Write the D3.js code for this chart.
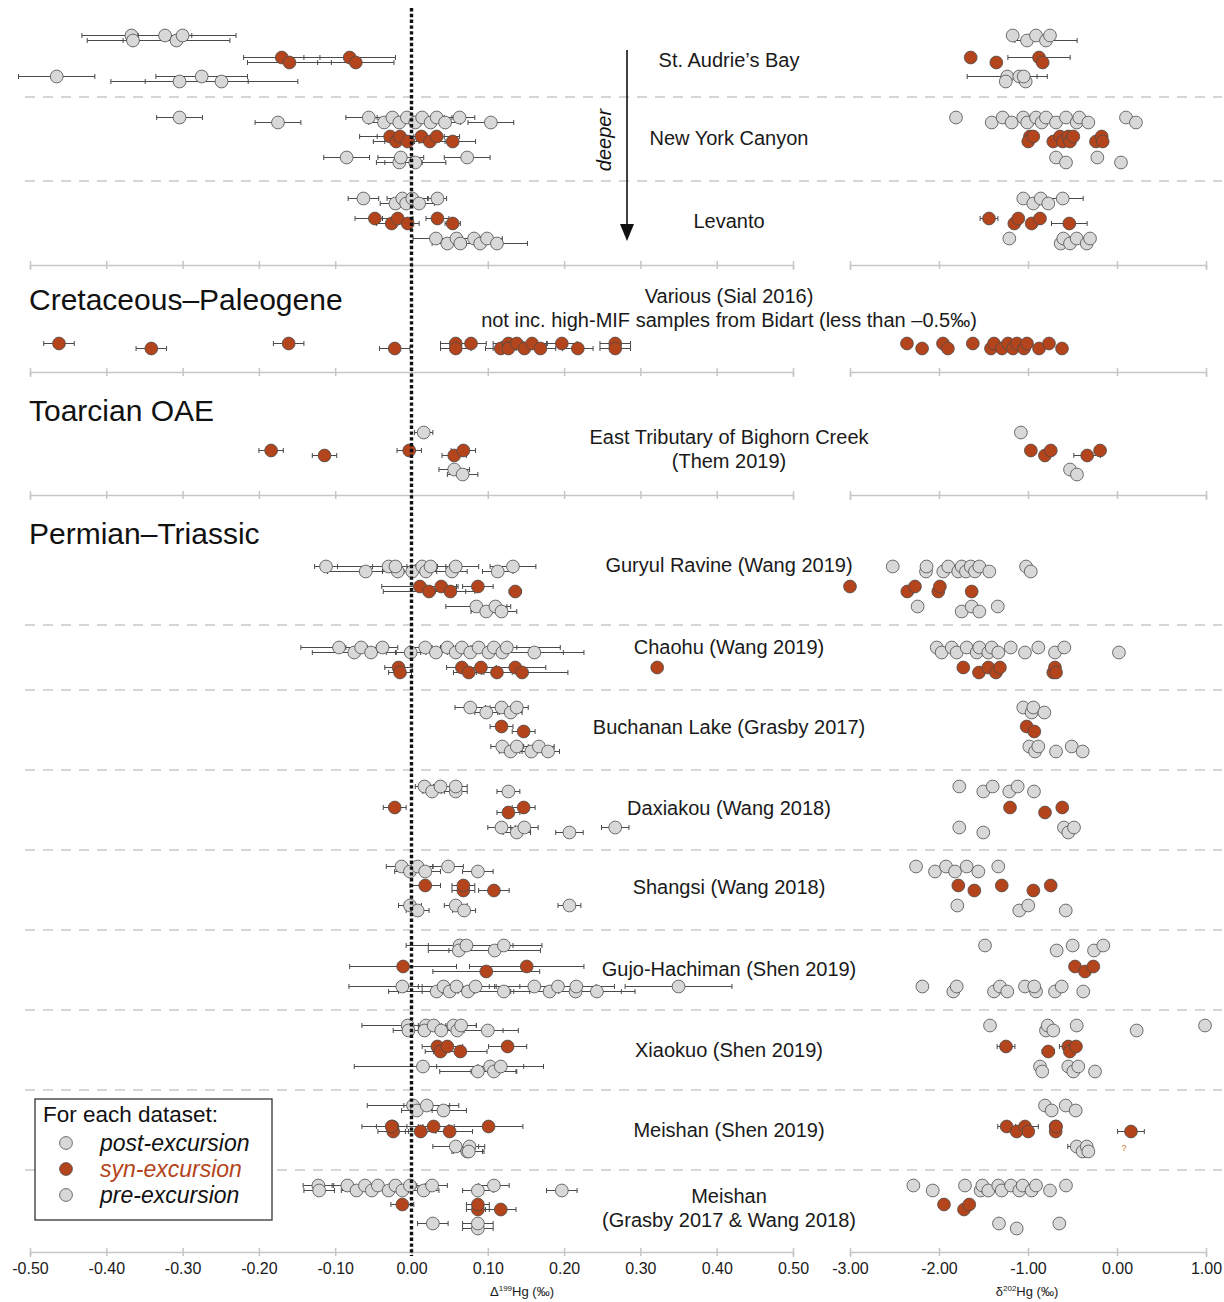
<!DOCTYPE html>
<html><head><meta charset="utf-8">
<script src="https://cdn.jsdelivr.net/npm/d3@7"></script>
<style>body{margin:0;background:#fff}svg{display:block;font-family:"Liberation Sans",Arial,Helvetica,sans-serif}</style>
</head><body><svg id="c" width="1224" height="1302"></svg>
<script>
// ---------------- DATA ----------------
const datasetLabels = [
  ["St. Audrie\u2019s Bay"], ["New York Canyon"], ["Levanto"],
  ["Various (Sial 2016)", "not inc. high-MIF samples from Bidart (less than \u20130.5\u2030)"],
  ["East Tributary of Bighorn Creek", "(Them 2019)"],
  ["Guryul Ravine (Wang 2019)"], ["Chaohu (Wang 2019)"], ["Buchanan Lake (Grasby 2017)"],
  ["Daxiakou (Wang 2018)"], ["Shangsi (Wang 2018)"], ["Gujo-Hachiman (Shen 2019)"],
  ["Xiaokuo (Shen 2019)"], ["Meishan (Shen 2019)"], ["Meishan", "(Grasby 2017 & Wang 2018)"]
];
const eventTitles = ["Cretaceous\u2013Paleogene", "Toarcian OAE", "Permian\u2013Triassic"];
const legendLabels = ["post-excursion", "syn-excursion", "pre-excursion"];
const ticksD199 = [-0.5,-0.4,-0.3,-0.2,-0.1,0,0.1,0.2,0.3,0.4,0.5];
const ticksD202 = [-3,-2,-1,0,1];

// [value, error] per dataset (index as in datasetLabels)
const d199Post = [
  [[-0.367,0.065],[-0.365,0.06],[-0.323,0.035],[-0.308,0.07],[-0.300,0.07]],
  [[-0.304,0.03],[-0.175,0.03],[-0.056,0.03],[-0.036,0.02],[-0.025,0.02],[-0.016,0.02],[-0.006,0.02],[0.005,0.02],[0.014,0.02],[0.025,0.02],[0.033,0.02],[0.044,0.02],[0.063,0.02],[0.104,0.03]],
  [[-0.063,0.02],[-0.021,0.02],[-0.012,0.02],[-0.007,0.02],[0.001,0.02],[0.010,0.02],[0.034,0.012]],
  [],
  [[0.016,0.012]],
  [[-0.112,0.015],[-0.060,0.05],[-0.030,0.08],[-0.018,0.02],[-0.021,0.03],[0.001,0.02],[0.014,0.02],[0.019,0.03],[0.025,0.02],[0.053,0.02],[0.058,0.03],[0.113,0.02],[0.133,0.03]],
  [[-0.095,0.05],[-0.075,0.055],[-0.066,0.02],[-0.053,0.02],[-0.038,0.02],[-0.001,0.02],[0.018,0.02],[0.032,0.02],[0.047,0.02],[0.058,0.02],[0.066,0.02],[0.077,0.03],[0.088,0.03],[0.101,0.02],[0.108,0.03],[0.119,0.08],[0.125,0.07],[0.161,0.065]],
  [[0.077,0.02],[0.098,0.015],[0.118,0.015],[0.130,0.015],[0.138,0.015]],
  [[0.017,0.012],[0.027,0.012],[0.038,0.015],[0.058,0.015],[0.058,0.015],[0.127,0.015]],
  [[-0.013,0.02],[-0.002,0.02],[0.008,0.02],[0.018,0.02],[0.048,0.02],[0.087,0.02]],
  [[0.063,0.07],[0.062,0.04],[0.072,0.05],[0.109,0.06],[0.121,0.05]],
  [[-0.005,0.06],[-0.004,0.02],[0.019,0.02],[0.017,0.02],[0.029,0.02],[0.039,0.03],[0.055,0.03],[0.060,0.06],[0.065,0.02],[0.100,0.04]],
  [[0.002,0.06],[0.007,0.02],[0.020,0.03],[0.042,0.03]],
  [[-0.122,0.02],[-0.121,0.02],[-0.084,0.02],[-0.072,0.02],[-0.061,0.02],[-0.052,0.02],[-0.044,0.02],[-0.030,0.02],[-0.021,0.02],[-0.012,0.02],[-0.002,0.02],[0.016,0.02],[0.027,0.02],[0.087,0.02],[0.108,0.02],[0.197,0.02]]
];
const d199Syn = [
  [[-0.170,0.05],[-0.160,0.055],[-0.081,0.06],[-0.073,0.05]],
  [[-0.028,0.04],[-0.020,0.03],[-0.015,0.03],[-0.005,0.03],[0.013,0.03],[0.024,0.02],[0.033,0.03],[0.054,0.03]],
  [[-0.048,0.026],[-0.026,0.02],[-0.018,0.02],[-0.005,0.015],[0.034,0.015],[0.054,0.01]],
  [[-0.462,0.02],[-0.341,0.02],[-0.161,0.02],[-0.022,0.02],[0.058,0.02],[0.058,0.02],[0.078,0.02],[0.117,0.02],[0.127,0.02],[0.127,0.02],[0.138,0.02],[0.148,0.02],[0.158,0.02],[0.169,0.02],[0.197,0.02],[0.218,0.02],[0.267,0.02],[0.267,0.02]],
  [[-0.184,0.016],[-0.114,0.016],[-0.003,0.016],[0.056,0.016],[0.068,0.016]],
  [[0.011,0.05],[0.023,0.06],[0.039,0.02],[0.051,0.02],[0.087,0.02],[0.136,0.008]],
  [[-0.017,0.018],[-0.015,0.015],[0.066,0.02],[0.075,0.02],[0.091,0.02],[0.112,0.02],[0.136,0.04],[0.145,0.06],[0.322,0.006]],
  [[0.118,0.015],[0.147,0.015]],
  [[-0.022,0.015],[0.127,0.015],[0.147,0.015]],
  [[0.018,0.02],[0.068,0.015],[0.068,0.015],[0.108,0.02]],
  [[-0.011,0.07],[0.098,0.07],[0.151,0.075]],
  [[0.034,0.02],[0.038,0.02],[0.047,0.02],[0.064,0.035],[0.126,0.025]],
  [[-0.025,0.04],[-0.024,0.02],[-0.026,0.02],[0.012,0.02],[0.029,0.02],[0.050,0.03],[0.101,0.045]],
  [[-0.012,0.015],[0.087,0.015],[0.087,0.015],[0.117,0.02]]
];
const d199Pre = [
  [[-0.465,0.05],[-0.304,0.09],[-0.275,0.06],[-0.249,0.1]],
  [[-0.085,0.03],[-0.016,0.03],[-0.014,0.03],[0.005,0.04],[0.073,0.03]],
  [[0.032,0.03],[0.047,0.02],[0.059,0.02],[0.064,0.02],[0.082,0.02],[0.090,0.02],[0.099,0.02],[0.112,0.04]],
  [],
  [[0.056,0.02],[0.067,0.02]],
  [[0.085,0.04],[0.098,0.02],[0.110,0.02],[0.118,0.02]],
  [],
  [[0.119,0.015],[0.130,0.015],[0.138,0.015],[0.157,0.015],[0.167,0.02],[0.179,0.015]],
  [[0.118,0.018],[0.138,0.018],[0.148,0.018],[0.207,0.018],[0.267,0.018]],
  [[-0.002,0.015],[0.008,0.015],[0.058,0.015],[0.069,0.015],[0.207,0.015]],
  [[-0.012,0.07],[0.033,0.05],[0.042,0.06],[0.050,0.08],[0.059,0.05],[0.074,0.06],[0.084,0.07],[0.121,0.06],[0.161,0.05],[0.181,0.06],[0.192,0.05],[0.215,0.06],[0.216,0.05],[0.243,0.05],[0.350,0.07]],
  [[0.015,0.09],[0.087,0.05],[0.103,0.07],[0.108,0.03],[0.117,0.03]],
  [[0.058,0.03],[0.073,0.02],[0.076,0.02],[0.075,0.02]],
  [[0.028,0.02],[0.087,0.02],[0.087,0.02]]
];
const d202Post = [
  [[-1.172,0.05],[-1.011,0.05],[-0.910,0.05],[-0.798,0.35],[-0.753,0.05]],
  [[-1.809,0.03],[-1.408,0.03],[-1.285,0.03],[-1.183,0.03],[-1.053,0.03],[-1.008,0.03],[-0.910,0.03],[-0.846,0.03],[-0.798,0.03],[-0.685,0.03],[-0.573,0.03],[-0.453,0.03],[-0.424,0.03],[-0.322,0.05],[0.101,0.03],[0.213,0.05]],
  [[-1.053,0.05],[-0.941,0.03],[-0.857,0.03],[-0.772,0.03],[-0.610,0.23]],
  [],
  [[-1.08,0.03]],
  [[-2.52,0.03],[-2.146,0.03],[-2.14,0.03],[-1.952,0.03],[-1.896,0.03],[-1.784,0.03],[-1.745,0.03],[-1.697,0.03],[-1.644,0.03],[-1.596,0.03],[-1.547,0.03],[-1.435,0.03],[-1.022,0.03],[-0.969,0.03]],
  [[-2.026,0.03],[-1.970,0.03],[-1.857,0.03],[-1.801,0.03],[-1.689,0.03],[-1.576,0.03],[-1.547,0.03],[-1.446,0.03],[-1.408,0.03],[-1.334,0.03],[-1.194,0.03],[-1.034,0.03],[-0.884,0.03],[-0.697,0.05],[-0.592,0.03],[0.022,0.03]],
  [[-1.053,0.05],[-0.959,0.03],[-0.940,0.03],[-0.816,0.03]],
  [[-1.772,0.03],[-1.502,0.03],[-1.397,0.03],[-1.210,0.03],[-1.116,0.03],[-0.933,0.03]],
  [[-2.258,0.05],[-2.045,0.03],[-1.921,0.03],[-1.820,0.03],[-1.689,0.03],[-1.558,0.03],[-1.334,0.03]],
  [[-1.483,0.03],[-0.678,0.03],[-0.498,0.03],[-0.258,0.03],[-0.154,0.03]],
  [[-1.427,0.03],[-0.798,0.03],[-0.779,0.03],[-0.716,0.03],[-0.453,0.03],[0.221,0.03],[0.989,0.03]],
  [[-0.809,0.03],[-0.734,0.03],[-0.576,0.03],[-0.464,0.03]],
  [[-2.288,0.05],[-2.071,0.05],[-1.708,0.03],[-1.532,0.03],[-1.513,0.05],[-1.446,0.03],[-1.334,0.03],[-1.296,0.03],[-1.191,0.03],[-1.098,0.03],[-1.060,0.03],[-0.959,0.05],[-0.910,0.03],[-0.753,0.03],[-0.573,0.05]]
];
const d202Syn = [
  [[-1.644,0.03],[-1.356,0.03],[-0.876,0.35],[-0.835,0.05]],
  [[-0.978,0.05],[-0.997,0.03],[-0.941,0.03],[-0.716,0.03],[-0.640,0.03],[-0.610,0.03],[-0.547,0.03],[-0.528,0.03],[-0.491,0.03],[-0.236,0.03],[-0.172,0.03],[-0.161,0.05]],
  [[-1.438,0.1],[-1.154,0.03],[-1.109,0.03],[-0.959,0.03],[-0.865,0.03],[-0.536,0.2]],
  [[-2.36,0.03],[-2.19,0.03],[-1.955,0.03],[-1.90,0.03],[-1.62,0.04],[-1.416,0.03],[-1.382,0.03],[-1.292,0.03],[-1.225,0.03],[-1.169,0.03],[-1.124,0.03],[-1.045,0.03],[-1.011,0.03],[-0.876,0.03],[-0.764,0.03],[-0.618,0.05]],
  [[-0.968,0.03],[-0.81,0.03],[-0.744,0.03],[-0.335,0.15],[-0.19,0.03]],
  [[-3.00,0.03],[-2.356,0.03],[-2.27,0.03],[-2.008,0.03],[-1.99,0.03],[-1.633,0.03]],
  [[-1.727,0.03],[-1.551,0.03],[-1.446,0.03],[-1.360,0.03],[-1.315,0.03],[-0.716,0.03],[-0.697,0.05],[-0.685,0.03]],
  [[-1.015,0.03],[-0.929,0.03]],
  [[-1.202,0.05],[-0.809,0.05],[-0.615,0.03]],
  [[-1.783,0.03],[-1.603,0.03],[-1.295,0.03],[-0.940,0.03],[-0.745,0.05]],
  [[-0.472,0.03],[-0.36,0.03],[-0.266,0.03]],
  [[-1.247,0.1],[-0.772,0.07],[-0.547,0.1],[-0.530,0.03],[-0.461,0.03]],
  [[-1.24,0.1],[-1.127,0.03],[-1.034,0.15],[-0.997,0.03],[-0.689,0.03],[-0.689,0.03],[-0.685,0.03],[0.157,0.15]],
  [[-1.944,0.05],[-1.719,0.05],[-1.66,0.05]]
];
const d202Pre = [
  [[-1.233,0.45],[-1.25,0.03],[-1.098,0.2],[-1.026,0.05],[-1.048,0.03]],
  [[-0.685,0.03],[-0.573,0.03],[-0.221,0.03],[0.045,0.05]],
  [[-1.21,0.05],[-0.633,0.03],[-0.603,0.03],[-0.528,0.03],[-0.453,0.03],[-0.340,0.03],[-0.303,0.03]],
  [],
  [[-0.528,0.03],[-0.45,0.03]],
  [[-2.24,0.03],[-1.745,0.03],[-1.633,0.03],[-1.547,0.03],[-1.34,0.03]],
  [],
  [[-0.985,0.05],[-0.921,0.03],[-0.884,0.03],[-0.685,0.03],[-0.509,0.03],[-0.386,0.05]],
  [[-1.772,0.03],[-1.502,0.05],[-0.596,0.03],[-0.547,0.03],[-0.483,0.03]],
  [[-1.794,0.05],[-1.098,0.03],[-0.997,0.05],[-0.576,0.03]],
  [[-2.187,0.03],[-1.839,0.03],[-1.801,0.03],[-1.382,0.03],[-1.315,0.03],[-1.233,0.03],[-1.034,0.03],[-0.910,0.03],[-0.93,0.03],[-0.697,0.03],[-0.621,0.03],[-0.379,0.03]],
  [[-0.865,0.03],[-0.84,0.03],[-0.547,0.03],[-0.491,0.03],[-0.435,0.03],[-0.247,0.03]],
  [[-0.453,0.1],[-0.386,0.03],[-0.340,0.05],[-0.322,0.03]],
  [[-1.326,0.03],[-1.127,0.05],[-0.648,0.05]]
];

// ---------------- LAYOUT ----------------
const GRAY = "#d8d8d8", ORANGE = "#b3441b";
const stageFill = [GRAY, ORANGE, GRAY];
const rowY = [[38,60,79],[120,139,160],[201,221,241],[null,346,null],[435,453,472],
  [569,589,609],[650,670,null],[710,729,749],[789,810,830],[869,888,908],
  [948,969,989],[1028,1049,1069],[1108,1129,1149],[1188,1207,1226]];
const labelY = [[60],[138],[221],[296,320],[437,461],[565],[647],[727],[808],[887],[969],[1050],[1130],[1196,1220]];
const titleY = [310,421,544];
const sepY = [97,181,625,690,770,850,930,1010,1090,1170];
const axisY = [265,372,495,1252];

const svg = d3.select("#c");
const xL = d3.scaleLinear().domain([-0.5,0.5]).range([30,793]);
const xR = d3.scaleLinear().domain([-3,1]).range([850,1206]);

// dashed separators
svg.append("g").selectAll("line").data(sepY).join("line")
  .attr("x1",25).attr("x2",1222).attr("y1",d=>d).attr("y2",d=>d)
  .attr("stroke","#c9c9c9").attr("stroke-width",1.4).attr("stroke-dasharray","10,8");

// axes
const fmt = v => v.toFixed(2);
axisY.forEach((y,k)=>{
  const last = k===axisY.length-1;
  [[xL,ticksD199],[xR,ticksD202]].forEach(([sc,tv])=>{
    const ax = d3.axisBottom(sc).tickValues(tv).tickSizeOuter(0).tickSize(5)
      .tickFormat(last ? fmt : "");
    const g = svg.append("g").attr("transform",`translate(0,${y})`).call(ax);
    g.select(".domain").attr("stroke","#c6c6c6").attr("stroke-width",1.5);
    g.selectAll(".tick line").attr("stroke","#c6c6c6").attr("stroke-width",1.5).attr("y1",-4).attr("y2",4);
    g.selectAll(".tick text").attr("font-size",16).attr("fill","#1a1a1a").attr("y",11)
      .attr("font-family","'Liberation Sans',Arial,sans-serif");
  });
});

// axis titles
function axTitle(x, pre, sup, post){
  const t = svg.append("text").attr("x",x).attr("y",1296).attr("text-anchor","middle")
    .attr("font-size",13).attr("fill","#1a1a1a");
  t.append("tspan").text(pre);
  t.append("tspan").attr("font-size",8).attr("dy",-5).text(sup);
  t.append("tspan").attr("dy",5).text(post);
}
axTitle(522,"\u0394","199","Hg (\u2030)");
axTitle(1027,"\u03b4","202","Hg (\u2030)");

// event titles
eventTitles.forEach((t,i)=>svg.append("text").attr("x",29).attr("y",titleY[i])
  .attr("font-size",30).attr("fill","#111").text(t));

// dataset labels
datasetLabels.forEach((lines,i)=>lines.forEach((t,j)=>svg.append("text")
  .attr("x",729).attr("y",labelY[i][j]).attr("dy","0.35em").attr("text-anchor","middle")
  .attr("font-size",20).attr("fill","#1a1a1a").text(t)));

// "deeper" arrow
svg.append("line").attr("x1",627).attr("x2",627).attr("y1",50).attr("y2",228)
  .attr("stroke","#111").attr("stroke-width",1.6);
svg.append("path").attr("d","M620,224 L634,224 L627,241 Z").attr("fill","#111");
svg.append("text").attr("transform","translate(611,140) rotate(-90)").attr("text-anchor","middle")
  .attr("font-size",20).attr("font-style","italic").attr("fill","#111").text("deeper");

// points
const pts = [];
[[d199Post,d199Syn,d199Pre,xL],[d202Post,d202Syn,d202Pre,xR]].forEach(([a,b,c,sc])=>{
  [a,b,c].forEach((series,s)=>{
    series.forEach((arr,ds)=>{
      const y0 = rowY[ds][s];
      if(y0==null) return;
      arr.forEach(([v,e],i)=>{
        pts.push({cx:sc(v), lo:sc(v-e), hi:sc(v+e), cy:y0 + (i%2 ? 2.5 : -2.5), fill:stageFill[s]});
      });
    });
  });
});
const eb = svg.append("g").attr("stroke","#4a4a4a").attr("stroke-width",1);
eb.selectAll("line.h").data(pts).join("line").attr("class","h")
  .attr("x1",d=>d.lo).attr("x2",d=>d.hi).attr("y1",d=>d.cy).attr("y2",d=>d.cy);
eb.selectAll("line.l").data(pts).join("line").attr("class","l")
  .attr("x1",d=>d.lo).attr("x2",d=>d.lo).attr("y1",d=>d.cy-2.5).attr("y2",d=>d.cy+2.5);
eb.selectAll("line.r").data(pts).join("line").attr("class","r")
  .attr("x1",d=>d.hi).attr("x2",d=>d.hi).attr("y1",d=>d.cy-2.5).attr("y2",d=>d.cy+2.5);
svg.append("g").selectAll("circle").data(pts).join("circle")
  .attr("cx",d=>d.cx).attr("cy",d=>d.cy).attr("r",6.4)
  .attr("fill",d=>d.fill).attr("stroke","#4d4d4d").attr("stroke-width",0.8);

// zero line
svg.append("line").attr("x1",xL(0)).attr("x2",xL(0)).attr("y1",8).attr("y2",1256)
  .attr("stroke","#111").attr("stroke-width",3.4).attr("stroke-dasharray","3.4,2.4");

// small orange mark
svg.append("text").attr("x",1124).attr("y",1151).attr("text-anchor","middle")
  .attr("font-size",9).attr("fill","#c8702a").text("?");

// legend
const lg = svg.append("g");
lg.append("rect").attr("x",35).attr("y",1099).attr("width",237).attr("height",121)
  .attr("fill","#fff").attr("stroke","#333").attr("stroke-width",1.3);
lg.append("text").attr("x",43).attr("y",1122).attr("font-size",22.5).attr("fill","#111").text("For each dataset:");
legendLabels.forEach((t,i)=>{
  const y = 1143 + i*26;
  lg.append("circle").attr("cx",66).attr("cy",y).attr("r",6.4)
    .attr("fill",stageFill[i]).attr("stroke","#4d4d4d").attr("stroke-width",0.8);
  lg.append("text").attr("x",100).attr("y",y).attr("dy","0.35em").attr("font-size",23)
    .attr("font-style","italic").attr("fill", i===1 ? ORANGE : "#111").text(t);
});
</script></body></html>
